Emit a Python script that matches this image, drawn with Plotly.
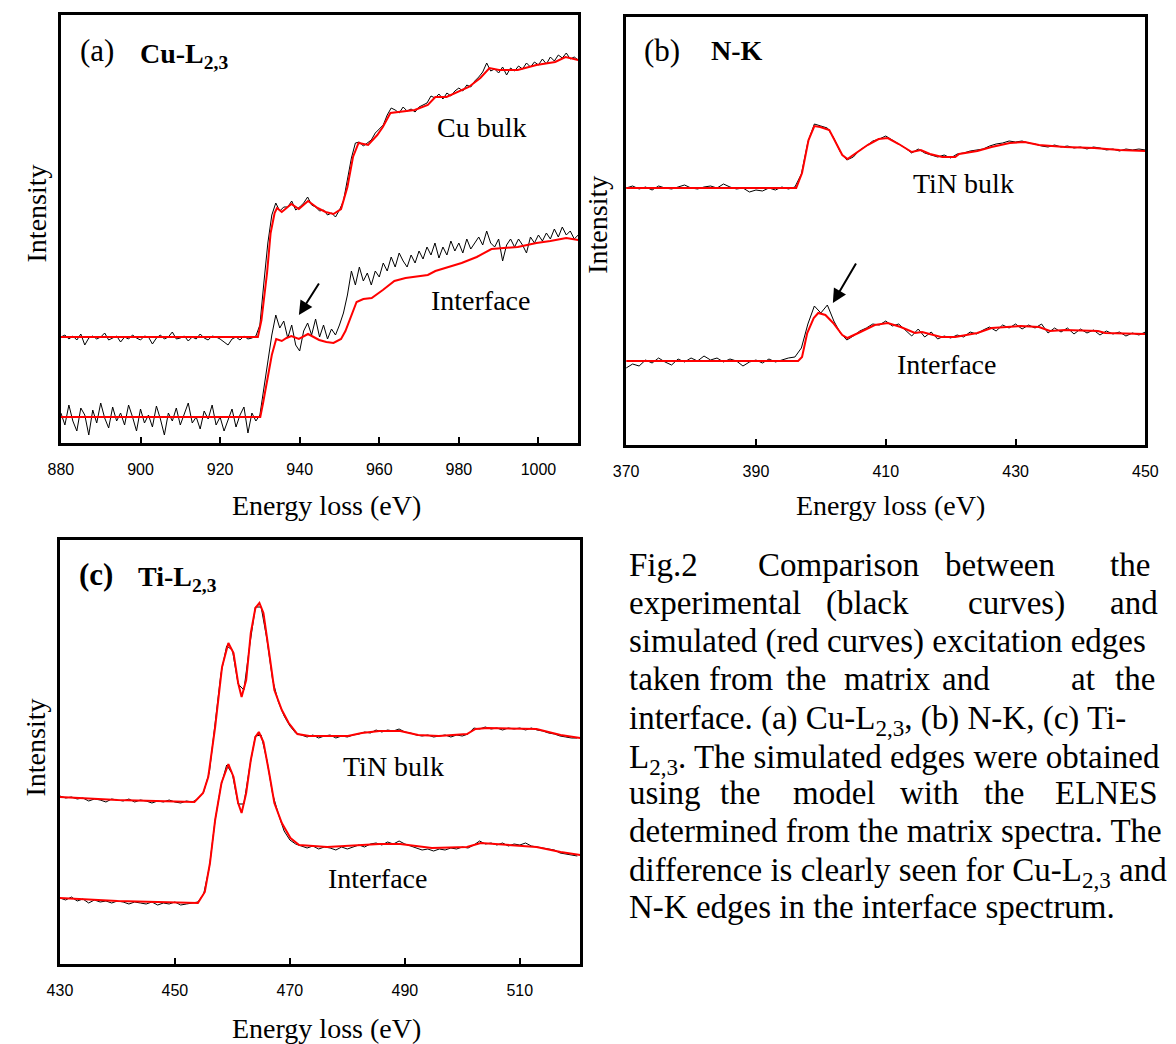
import plotly.graph_objects as go

W, H = 1176, 1044

# ---------------- Panel (a) Cu-L2,3 ----------------
a_black_x = list(range(880, 1011))
a_bulk_black = [106,108,104,107,103,109,98,105,107,104,106,110,103,105,107,101,106,104,108,105,
                103,107,106,99,105,108,104,106,111,104,105,107,102,106,104,109,105,103,107,106,
                104,101,98,104,106,103,107,104,105,107,
                118,160,200,228,240,232,236,236,242,233,236,240,246,238,236,232,233,228,230,226,
                233,242,262,285,300,301,297,300,303,310,314,318,328,335,333,330,336,332,334,331,
                336,338,340,347,345,349,344,350,347,352,355,352,358,356,362,366,371,380,372,374,
                370,376,368,375,372,377,374,380,376,381,378,384,379,386,382,388,385,390,384,386,383]
a_int_black = [30,18,38,22,12,35,28,8,33,20,40,25,15,36,22,30,18,38,26,12,
               34,20,28,16,37,24,8,30,22,35,18,28,40,20,26,14,32,24,38,18,
               26,12,22,34,16,28,36,10,30,22,
               28,55,80,108,128,115,122,105,118,98,92,112,120,108,124,106,118,104,114,108,
               118,130,148,172,158,176,162,170,158,172,166,180,172,186,176,190,182,176,188,180,
               192,184,196,188,200,185,196,188,202,192,200,190,204,194,200,206,198,212,200,196,
               204,182,198,204,196,204,198,190,206,200,208,202,210,204,214,206,216,208,212,204,208]
a_bulk_red_x = [880, 929.5, 930.4, 931.8, 932.7, 933.7, 934.3, 935.5, 936.7, 937.9, 939.8, 942.1,
                944.5, 946.5, 948.5, 950.4, 952.0, 953.4, 954.8, 957.2, 959.5, 960.9, 962.8, 966.6,
                968.9, 972.2, 974.1, 976.9, 979.7, 982.5, 985.4, 987.7, 990.1, 994.8, 999.5, 1004.2,
                1006.8, 1010]
a_bulk_red = [106, 106, 123, 170, 210, 230, 235, 231, 235, 239, 234, 242,
              235, 231, 229, 234, 256, 286, 300, 298, 308, 316, 330, 332,
              333, 338, 346, 346, 351, 356, 365, 375, 373, 373, 378, 381,
              386, 383]
a_int_red_x = [880, 930.1, 930.8, 931.8, 933.0, 934.1, 935.5, 936.7, 937.9, 939.8, 942.1, 944.9,
               946.7, 948.5, 950.4, 951.5, 952.5, 954.3, 956.0, 958.1, 960.9, 963.8, 966.6, 972.2,
               974.1, 980.7, 984.5, 988.2, 994.8, 999.5, 1003, 1007, 1010]
a_int_red = [26, 26, 40, 62, 88, 104, 102, 105, 107, 104, 109, 103,
             101, 100, 104, 112, 123, 141, 144, 145, 153, 162, 165, 168,
             172, 180, 186, 194, 196, 200, 202, 205, 203]
a_ticks = [880, 900, 920, 940, 960, 980, 1000]

# ---------------- Panel (b) N-K ----------------
b_black_x = list(range(370, 451))
b_bulk_black = [258,260,257,259,256,260,258,257,259,261,258,257,259,260,258,262,259,257,258,254,
                256,255,258,256,259,257,259,
                272,304,322,320,318,308,294,286,289,296,300,305,307,310,306,302,298,293,297,293,
                291,289,291,288,292,293,295,296,297,300,302,303,305,304,305,303,302,300,299,301,
                299,300,298,299,297,299,298,296,297,295,297,296,297,296]
b_int_black = [78,82,80,86,83,88,84,81,87,84,88,85,90,86,88,84,87,85,80,84,
               86,83,87,84,86,88,89,
               98,122,140,133,141,125,113,106,110,115,118,122,121,125,120,122,116,110,117,109,
               114,107,110,108,111,109,114,112,116,119,115,121,118,122,117,121,118,122,113,118,
               114,118,112,117,113,116,111,115,112,114,110,113,111,114]
b_bulk_red_x = [370, 396.2, 397.1, 398.1, 399.0, 399.9, 401.3, 402.4, 403.3, 404.1, 405.5, 407.2,
                408.9, 410.3, 412.0, 414.0, 415.4, 416.8, 418.7, 420.7, 421.3, 424.1, 426.3, 429.1,
                431.4, 433.6, 437.6, 442.1, 446.0, 450]
b_bulk_red = [258, 258, 273, 306, 320, 319, 316, 303, 291, 287, 293, 301,
              307, 308, 302, 294, 296, 292, 289, 289, 292, 295, 299, 303,
              304, 301, 299, 298, 296, 295]
b_int_red_x = [370, 396.5, 397.1, 397.9, 398.9, 399.6, 400.7, 401.9, 403.3, 404.1, 406.1, 408.3,
               410.3, 412.3, 414.5, 415.6, 418.5, 420.7, 424.1, 426.3, 430.8, 433.6, 435.3, 437.6,
               442.7, 443.8, 450]
b_int_red = [85, 85, 89, 113, 128, 133, 131, 123, 111, 108, 114, 121,
             123, 119, 113, 114, 109, 109, 113, 118, 120, 119, 115, 116,
             115, 113, 112]
b_ticks = [370, 390, 410, 430, 450]

# ---------------- Panel (c) Ti-L2,3 ----------------
c_black_x = list(range(430, 521))
c_bulk_black = [168,166,167,165,166,163,165,164,162,165,164,163,165,162,164,163,161,163,162,164,
                162,161,163,162,
                165,172,192,238,290,318,314,280,274,318,357,357,325,284,262,248,238,231,229,227,
                229,226,228,229,226,228,227,229,230,232,231,234,232,234,233,235,232,231,229,228,
                229,227,228,229,227,229,228,230,236,235,237,235,236,234,236,235,236,234,236,234,
                233,231,230,228,227,226,226]
c_int_black = [66,64,67,63,65,61,64,62,63,61,63,62,60,62,61,60,62,59,61,60,
               62,59,60,61,
               62,70,97,144,178,199,190,160,160,197,228,229,204,170,150,133,124,120,118,116,
               118,115,117,116,114,117,115,117,119,117,120,121,119,122,120,123,120,118,116,114,
               115,113,115,114,116,115,117,116,119,123,120,121,119,121,118,120,119,121,118,117,
               116,115,114,111,110,109,108]
c_bulk_red_x = [430, 440, 453.4, 454.9, 455.8, 457.0, 458.2, 459.3, 460.2, 461.0, 461.6, 462.4,
                463.2, 464.0, 464.7, 465.4, 466.4, 467.3, 468.6, 469.8, 471.3, 473.4, 476.5, 480.1,
                482.5, 485.6, 489.2, 492.3, 495.9, 500.8, 502.3, 504.4, 512.9, 514.8, 517.1, 520.5]
c_bulk_red = [167, 164, 162, 171, 187, 237, 297, 321, 311, 281, 267, 284,
              331, 356, 361, 351, 311, 274, 254, 241, 230, 228, 228, 228,
              231, 233, 233, 229, 228, 230, 235, 236, 235, 232, 229, 226]
c_int_red_x = [430, 440, 454.0, 455.2, 456.1, 457.0, 458.1, 459.3, 460.2, 461.0, 461.6, 462.4,
               463.2, 464.0, 464.6, 465.4, 466.4, 467.3, 468.6, 470.1, 471.6, 476.5, 485.6, 489.2,
               494.7, 500.8, 503.2, 512.9, 517.1, 520.5]
c_int_red = [66, 63, 61, 72, 101, 144, 181, 200, 187, 161, 151, 171,
             204, 227, 232, 222, 191, 161, 141, 126, 119, 117, 120, 120,
             116, 117, 121, 117, 112, 109]
c_ticks = [430, 450, 470, 490, 510]

caption_lines = [
    "simulated (red curves) excitation edges",
    "interface. (a) Cu-L<sub>2,3</sub>, (b) N-K, (c) Ti-",
    "L<sub>2,3</sub>. The simulated edges were obtained",
    "determined from the matrix spectra. The",
    "difference is clearly seen for Cu-L<sub>2,3</sub> and",
    "N-K edges in the interface spectrum.",
]
caption_words_1 = ["Fig.2", "Comparison", "between", "the"]
caption_words_2 = ["experimental", "(black", "curves)", "and"]
caption_words_4 = ["taken", "from", "the", "matrix", "and", "at", "the"]
caption_words_7 = ["using", "the", "model", "with", "the", "ELNES"]

# ---------------- layout helpers ----------------
def fx(px):
    return px / W

def fy(py):
    return 1 - py / H

SERIF = "Liberation Serif, Times New Roman, serif"
SANS = "Liberation Sans, Arial, sans-serif"

fig = go.Figure()

panels = [
    ("x", "y", a_black_x, a_bulk_black, a_bulk_red_x, a_bulk_red, a_int_black, a_int_red_x, a_int_red),
    ("x2", "y2", b_black_x, b_bulk_black, b_bulk_red_x, b_bulk_red, b_int_black, b_int_red_x, b_int_red),
    ("x3", "y3", c_black_x, c_bulk_black, c_bulk_red_x, c_bulk_red, c_int_black, c_int_red_x, c_int_red),
]
for xa, ya, bx, bb, rbx, rb, ib, rix, ri in panels:
    fig.add_trace(go.Scatter(x=bx, y=bb, mode="lines", line=dict(color="black", width=1),
                             xaxis=xa, yaxis=ya, showlegend=False, hoverinfo="skip"))
    fig.add_trace(go.Scatter(x=bx, y=ib, mode="lines", line=dict(color="black", width=1),
                             xaxis=xa, yaxis=ya, showlegend=False, hoverinfo="skip"))
    fig.add_trace(go.Scatter(x=rbx, y=rb, mode="lines", line=dict(color="#ff0000", width=2),
                             xaxis=xa, yaxis=ya, showlegend=False, hoverinfo="skip"))
    fig.add_trace(go.Scatter(x=rix, y=ri, mode="lines", line=dict(color="#ff0000", width=2),
                             xaxis=xa, yaxis=ya, showlegend=False, hoverinfo="skip"))

def xaxis(domain, rng, ticks, anchor):
    return dict(domain=domain, range=rng, tickvals=ticks, ticktext=[str(t) for t in ticks],
                showline=True, linewidth=2.5, linecolor="black", mirror=True,
                ticks="inside", ticklen=6, tickwidth=1.5, tickcolor="black",
                showgrid=False, zeroline=False, anchor=anchor,
                tickfont=dict(family=SANS, size=16, color="black"), ticklabelstandoff=10)

def yaxis(domain, rng, anchor):
    return dict(domain=domain, range=rng, showline=True, linewidth=2.5, linecolor="black",
                mirror=True, ticks="", showticklabels=False, showgrid=False, zeroline=False,
                anchor=anchor)

fig.update_layout(
    width=W, height=H, margin=dict(l=0, r=0, t=0, b=0),
    paper_bgcolor="white", plot_bgcolor="white",
    xaxis=xaxis([fx(49), fx(578)], [880, 1010], a_ticks, "y"),
    yaxis=yaxis([fy(443), fy(15)], [0, 428], "x"),
    xaxis2=xaxis([fx(627), fx(1158)], [370, 450], b_ticks, "y2"),
    yaxis2=yaxis([fy(445), fy(17)], [1, 429], "x2"),
    xaxis3=xaxis([fx(48), fx(580)], [430, 520.5], c_ticks, "y3"),
    yaxis3=yaxis([fy(964), fy(540)], [0, 424], "x3"),
)

ann = []

def txt(text, px, py, size, xanchor="center", yanchor="middle", family=SERIF, angle=0):
    ann.append(dict(text=text, x=fx(px), y=fy(py), xref="paper", yref="paper",
                    xanchor=xanchor, yanchor=yanchor, showarrow=False, textangle=angle,
                    font=dict(family=family, size=size, color="black")))

# axis titles
txt("Energy loss (eV)", 321, 505, 28)
txt("Energy loss (eV)", 897, 505, 28)
txt("Energy loss (eV)", 321, 1028, 28)
txt("Intensity", 24, 213, 28, angle=-90)
txt("Intensity", 598, 225, 28, angle=-90)
txt("Intensity", 22, 748, 28, angle=-90)

# panel labels
txt("(a)", 86, 51, 31)
txt("<b>Cu-L<sub>2,3</sub></b>", 128, 55, 28, xanchor="left")
txt("(b)", 664, 51, 31)
txt("<b>N-K</b>", 712, 51, 28, xanchor="left")
txt("<b>(c)</b>", 85, 574, 31)
txt("<b>Ti-L<sub>2,3</sub></b>", 126, 578, 28, xanchor="left")

# curve labels
txt("Cu bulk", 479, 127, 28)
txt("Interface", 478, 300, 28)
txt("TiN bulk", 972, 184, 28)
txt("Interface", 955, 365, 28)
txt("TiN bulk", 389, 766, 28)
txt("Interface", 373, 878, 28)

# arrows
ann.append(dict(x=939.8, y=128, xref="x", yref="y", ax=21, ay=-33, showarrow=True,
                arrowhead=2, arrowsize=1.4, arrowwidth=2, arrowcolor="black", text=""))
ann.append(dict(x=401.85, y=143, xref="x2", yref="y2", ax=24, ay=-41, showarrow=True,
                arrowhead=2, arrowsize=1.4, arrowwidth=2, arrowcolor="black", text=""))

# caption (justified lines emulated with word positions)
CAP = 33
line_y = [565 + 38 * i for i in range(10)]
for w, px in zip(caption_words_1, [627.5, 760, 951, 1119.5]):
    txt(w, px, line_y[0], CAP, xanchor="left")
for w, px in zip(caption_words_2, [627.5, 829.7, 974.6, 1119.5]):
    txt(w, px, line_y[1], CAP, xanchor="left")
txt(caption_lines[0], 627.5, line_y[2], CAP, xanchor="left")
for w, px in zip(caption_words_4, [627.5, 709.5, 788.5, 847.5, 948, 1080, 1125]):
    txt(w, px, line_y[3], CAP, xanchor="left")
txt(caption_lines[1], 627.5, line_y[4] + 3, CAP, xanchor="left")
txt(caption_lines[2], 627.5, line_y[5] + 4, CAP, xanchor="left")
for w, px in zip(caption_words_7, [627.5, 720.5, 795.7, 904.8, 990.7, 1064]):
    txt(w, px, line_y[6], CAP, xanchor="left")
txt(caption_lines[3], 627.5, line_y[7], CAP, xanchor="left")
txt(caption_lines[4], 627.5, line_y[8] + 3, CAP, xanchor="left")
txt(caption_lines[5], 627.5, line_y[9], CAP, xanchor="left")

fig.update_layout(annotations=ann)
fig.write_html("out.html", config={"displayModeBar": False},
               post_script="document.body.style.margin='0';document.body.style.overflow='hidden';")
